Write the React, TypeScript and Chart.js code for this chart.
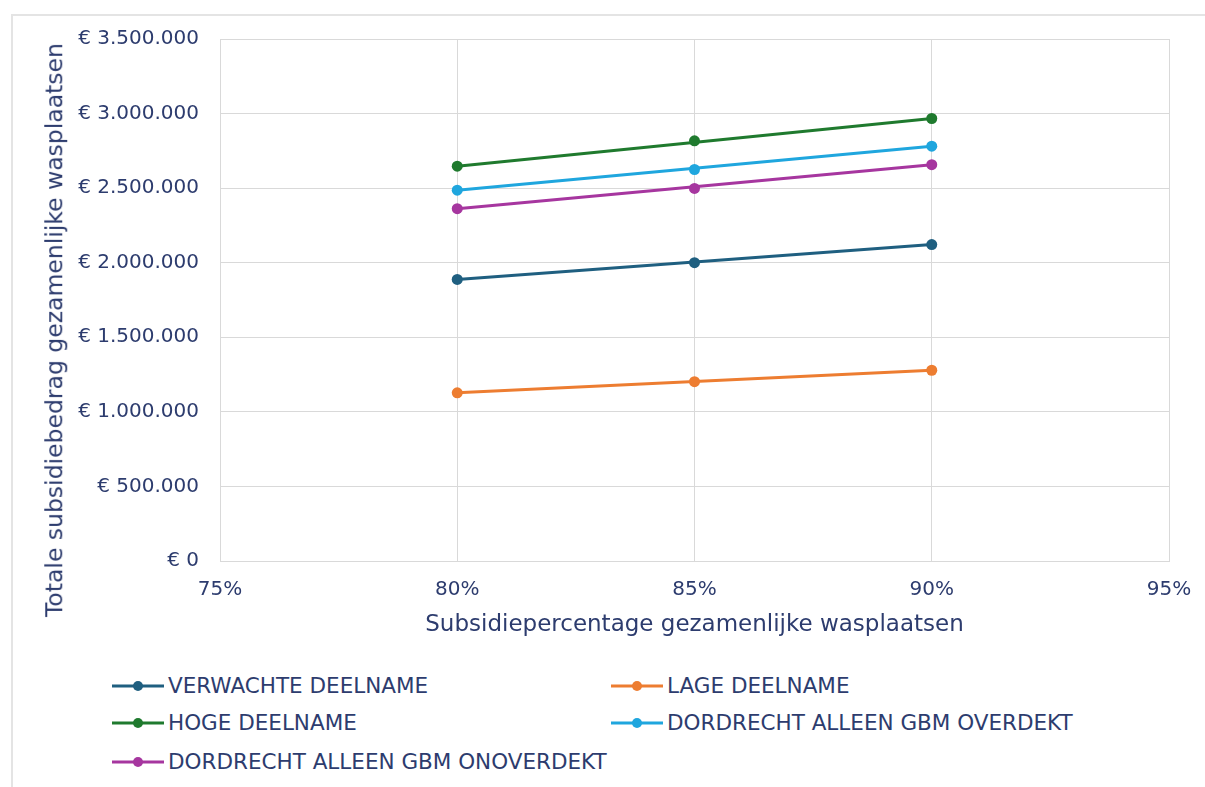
import React, { useEffect, useRef } from "react";
import { Chart, registerables } from "chart.js";

Chart.register(...registerables);

// ---- data ----
const percentages = [0.8, 0.85, 0.9];
const xTickValues = [0.75, 0.8, 0.85, 0.9, 0.95];
const seriesNames = [
  "VERWACHTE DEELNAME",
  "LAGE DEELNAME",
  "HOGE DEELNAME",
  "DORDRECHT ALLEEN GBM OVERDEKT",
  "DORDRECHT ALLEEN GBM ONOVERDEKT",
];
const verwachteDeelname = [1888000, 2000000, 2122000];
const lageDeelname = [1128000, 1202000, 1279000];
const hogeDeelname = [2647000, 2817000, 2967000];
const gbmOverdekt = [2486000, 2625000, 2781000];
const gbmOnoverdekt = [2362000, 2498000, 2657000];
const seriesValues = [verwachteDeelname, lageDeelname, hogeDeelname, gbmOverdekt, gbmOnoverdekt];
const seriesColors = ["#1F5F80", "#ED7D31", "#1F7A2E", "#1FA6DE", "#A6369F"];

const yTitle = "Totale subsidiebedrag gezamenlijke wasplaatsen";
const xTitle = "Subsidiepercentage gezamenlijke wasplaatsen";

const FONT = "'DejaVu Sans', sans-serif";
const TEXT = "#2D3C6E";
const GRID = "#D9D9D9";

function euro(v: number): string {
  const s = Math.round(v).toString().replace(/\B(?=(\d{3})+(?!\d))/g, ".");
  return "€ " + s;
}

export default function App() {
  const ref = useRef<HTMLCanvasElement | null>(null);

  useEffect(() => {
    if (!ref.current) return;
    const datasets: any[] = [];
    seriesValues.forEach((vals, i) => {
      const last = vals.length - 1;
      datasets.push({
        label: seriesNames[i] + " lijn",
        data: [
          { x: percentages[0], y: vals[0] },
          { x: percentages[last], y: vals[last] },
        ],
        borderColor: seriesColors[i],
        backgroundColor: seriesColors[i],
        borderWidth: 3,
        pointRadius: 0,
        tension: 0,
        order: 10,
      });
      datasets.push({
        label: seriesNames[i],
        data: vals.map((v, j) => ({ x: percentages[j], y: v })),
        borderColor: seriesColors[i],
        backgroundColor: seriesColors[i],
        showLine: false,
        pointRadius: 5.5,
        pointBorderWidth: 0,
        order: 1,
      });
    });

    const chart = new Chart(ref.current, {
      type: "line",
      data: { datasets },
      options: {
        animation: false,
        responsive: false,
        maintainAspectRatio: false,
        layout: { padding: { top: 39, right: 36, left: 0, bottom: 0 } },
        plugins: { legend: { display: false }, tooltip: { enabled: false } },
        scales: {
          x: {
            type: "linear",
            position: "bottom",
            min: 0.75,
            max: 0.95,
            afterBuildTicks: (scale: any) => {
              scale.ticks = xTickValues.map((v) => ({ value: v }));
            },
            afterFit: (scale: any) => {
              scale.height = 89;
              scale.paddingLeft = 0;
              scale.paddingRight = 0;
            },
            ticks: {
              callback: (v: any) => Math.round(Number(v) * 100) + "%",
              font: { family: FONT, size: 20 },
              color: TEXT,
              padding: 17,
              maxRotation: 0,
            },
            grid: { color: GRID, drawTicks: false, lineWidth: 1 },
            border: { color: GRID },
            title: {
              display: true,
              text: xTitle,
              font: { family: FONT, size: 23 },
              color: TEXT,
              padding: { top: 0, bottom: 11 },
            },
          },
          y: {
            type: "linear",
            min: 0,
            max: 3500000,
            afterFit: (scale: any) => {
              scale.width = 220;
              scale.paddingTop = 0;
              scale.paddingBottom = 0;
            },
            ticks: {
              stepSize: 500000,
              callback: (v: any) => euro(Number(v)),
              font: { family: FONT, size: 20 },
              color: TEXT,
              padding: 21,
            },
            grid: { color: GRID, drawTicks: false, lineWidth: 1 },
            border: { color: GRID },
          },
        },
      },
    });
    return () => chart.destroy();
  }, []);

  const legendRows = [
    [0, 1],
    [2, 3],
    [4],
  ];
  const rowY = [686, 723, 762];
  const colX = [112, 611];

  return (
    <div
      style={{
        position: "absolute",
        left: 0,
        top: 0,
        width: 1205,
        height: 787,
        overflow: "hidden",
        background: "#fff",
        fontFamily: FONT,
      }}
    >
      <div
        style={{
          position: "absolute",
          left: 11,
          top: 14,
          width: 1300,
          height: 900,
          borderLeft: "2px solid #E4E4E4",
          borderTop: "2px solid #E4E4E4",
        }}
      />
      <canvas
        ref={ref}
        width={1205}
        height={650}
        style={{ position: "absolute", left: 0, top: 0, width: 1205, height: 650 }}
      />
      <div
        style={{
          position: "absolute",
          left: 55,
          top: 330,
          transform: "translate(-50%, -50%) rotate(-90deg)",
          whiteSpace: "nowrap",
          fontSize: 23.5,
          color: TEXT,
          lineHeight: 1,
        }}
      >
        {yTitle}
      </div>
      {legendRows.map((row, r) =>
        row.map((idx, c) => (
          <div
            key={idx}
            style={{
              position: "absolute",
              left: colX[c],
              top: rowY[r] - 14,
              height: 28,
              display: "flex",
              alignItems: "center",
              whiteSpace: "nowrap",
            }}
          >
            <svg width={52} height={14} style={{ marginRight: 4 }}>
              <line x1={0} y1={7} x2={52} y2={7} stroke={seriesColors[idx]} strokeWidth={3} />
              <circle cx={26} cy={7} r={5} fill={seriesColors[idx]} />
            </svg>
            <span style={{ fontSize: 21.5, color: TEXT, lineHeight: 1 }}>{seriesNames[idx]}</span>
          </div>
        ))
      )}
    </div>
  );
}
